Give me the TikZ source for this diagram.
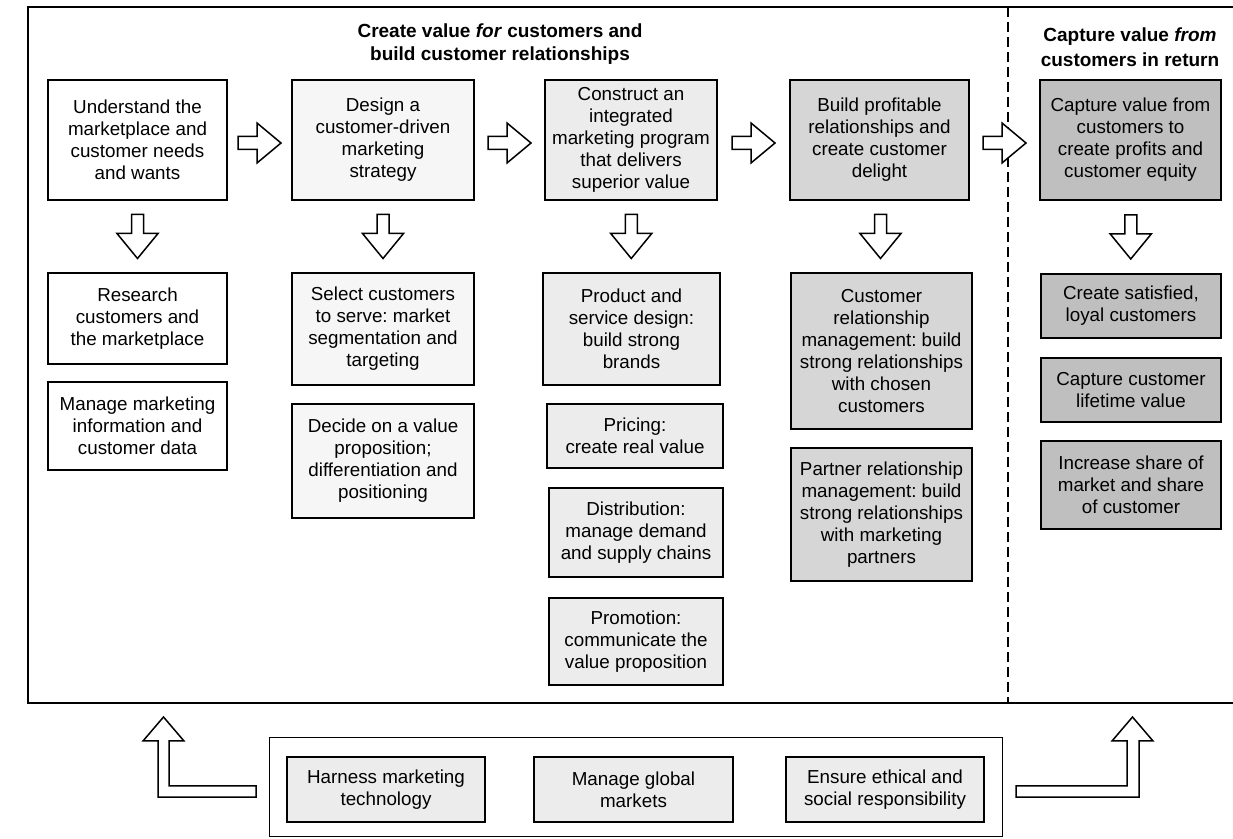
\documentclass[tikz,border=0pt]{standalone}
\usepackage{fontspec}
\setmainfont{Liberation Sans}
\usetikzlibrary{calc}
\frenchspacing

\tikzset{
    box/.style={draw, line width=1pt, inner sep=0pt, align=center,
        font=\fontsize{9.4}{11}\selectfont},
    plainbox/.style={box, fill=white},
    lightbox/.style={box, fill=gray!7},
    midbox/.style={box, fill=gray!15},
    heavybox/.style={box, fill=gray!32},
    darkbox/.style={box, fill=gray!50},
    heading/.style={align=center, inner sep=0pt, font=\fontsize{9.5}{11.5}\selectfont\bfseries},
    blockarrow/.style={draw, fill=white, line width=0.75pt, line join=miter},
    rblock/.pic={\path[blockarrow] (-21.5,-6.5) -- (-2.5,-6.5) -- (-2.5,-20) -- (21.5,0)
        -- (-2.5,20) -- (-2.5,6.5) -- (-21.5,6.5) -- cycle;},
    dblock/.pic={\path[blockarrow] (-6,-22) -- (6,-22) -- (6,-3) -- (20.5,-3) -- (0,22)
        -- (-20.5,-3) -- (-6,-3) -- cycle;}
}

\begin{document}
\begin{tikzpicture}[x=0.5pt, y=-0.5pt]
    \useasboundingbox (0,0) rectangle (1233,839);

    % 外框與虛線
    \draw[line width=0.8pt] (1233,7) -- (28,7) -- (28,703) -- (1233,703);
    \draw[line width=0.8pt, dash pattern=on 5pt off 2.5pt] (1008,7) -- (1008,703);

    % 標題
    \node[heading] (title) at (500,44) {Create value \textit{for} customers and\\build customer relationships};
    \node[heading, font=\fontsize{9.5}{12.5}\selectfont\bfseries] (title2) at (1130,47) {Capture value \textit{from}\\customers in return};

    % 第一列
    \node[plainbox, minimum width=89.5pt, minimum height=60pt] (und) at (137.5,140)
        {Understand the\\marketplace and\\customer needs\\and wants};
    \node[lightbox, minimum width=91pt, minimum height=60pt] (design) at (383,140)
        {Design a\\customer-driven\\marketing\\strategy};
    \node[midbox, minimum width=86pt, minimum height=60pt] (construct) at (631,140)
        {Construct an\\integrated\\marketing program\\that delivers\\superior value};
    \node[heavybox, minimum width=89.5pt, minimum height=60pt] (build) at (879.5,140)
        {Build profitable\\relationships and\\create customer\\delight};
    \node[darkbox, minimum width=90.5pt, minimum height=60pt] (capture) at (1130.5,140)
        {Capture value from\\customers to\\create profits and\\customer equity};

    % 第一欄
    \node[plainbox, minimum width=89.5pt, minimum height=45.5pt] (research) at (137.5,318.5)
        {Research\\customers and\\the marketplace};
    \node[plainbox, minimum width=89.5pt, minimum height=44pt] (manage) at (137.5,426)
        {Manage marketing\\information and\\customer data};

    % 第二欄
    \node[lightbox, minimum width=91pt, minimum height=56pt] (select) at (383,329)
        {Select customers\\to serve: market\\segmentation and\\targeting};
    \node[lightbox, minimum width=91pt, minimum height=57pt] (decide) at (383,461)
        {Decide on a value\\proposition;\\differentiation and\\positioning};

    % 第三欄
    \node[midbox, minimum width=88.5pt, minimum height=56pt] (product) at (631.5,329)
        {Product and\\service design:\\build strong\\brands};
    \node[midbox, minimum width=88pt, minimum height=32pt] (pricing) at (635,436)
        {Pricing:\\create real value};
    \node[midbox, minimum width=87pt, minimum height=44.5pt] (distrib) at (636,532.5)
        {Distribution:\\manage demand\\and supply chains};
    \node[midbox, minimum width=87pt, minimum height=43.5pt] (promo) at (636,641.5)
        {Promotion:\\communicate the\\value proposition};

    % 第四欄
    \node[heavybox, minimum width=90.5pt, minimum height=78pt] (crm) at (881.5,351)
        {Customer\\relationship\\management: build\\strong relationships\\with chosen\\customers};
    \node[heavybox, minimum width=90.5pt, minimum height=66.5pt] (prm) at (881.5,514.5)
        {Partner relationship\\management: build\\strong relationships\\with marketing\\partners};

    % 第五欄
    \node[darkbox, minimum width=90pt, minimum height=32pt] (loyal) at (1131,306)
        {Create satisfied,\\loyal customers};
    \node[darkbox, minimum width=90pt, minimum height=32pt] (lifetime) at (1131,390)
        {Capture customer\\lifetime value};
    \node[darkbox, minimum width=90pt, minimum height=44pt] (share) at (1131,485)
        {Increase share of\\market and share\\of customer};

    % 下方框
    \node[draw, line width=0.5pt, minimum width=366.5pt, minimum height=49pt] (env) at (635.5,787) {};
    \node[midbox, minimum width=99pt, minimum height=32.5pt] (tech) at (386,789.5)
        {Harness marketing\\technology};
    \node[midbox, minimum width=99.5pt, minimum height=32.5pt] (global) at (633.5,789.5)
        {Manage global\\markets};
    \node[midbox, minimum width=99pt, minimum height=32.5pt] (ethics) at (885,789.5)
        {Ensure ethical and\\social responsibility};

    % 向右箭頭
    \pic at ($(und.east)!.5!(design.west)+(0,3)$) {rblock};
    \pic at ($(design.east)!.5!(construct.west)+(0,3)$) {rblock};
    \pic at ($(construct.east)!.5!(build.west)+(0,3)$) {rblock};
    \pic at ($(build.east)!.5!(capture.west)+(0,3)$) {rblock};

    % 向下箭頭
    \pic at ($(und.south)!.5!(research.north)$) {dblock};
    \pic at ($(design.south)!.5!(select.north)$) {dblock};
    \pic at ($(construct.south)!.5!(product.north)$) {dblock};
    \pic at ($(build.south)!.5!(crm.north)$) {dblock};
    \pic at ($(capture.south)!.5!(loyal.north)$) {dblock};

    % L 形箭頭
    \path[blockarrow] (256,786) -- (169,786) -- (169,741) -- (184,741) -- (163.5,717)
        -- (143,741) -- (158,741) -- (158,797) -- (256,797) -- cycle;
    \path[blockarrow] (1016,786) -- (1127,786) -- (1127,741) -- (1112,741) -- (1132.5,717)
        -- (1153,741) -- (1139,741) -- (1139,797) -- (1016,797) -- cycle;
\end{tikzpicture}
\end{document}
